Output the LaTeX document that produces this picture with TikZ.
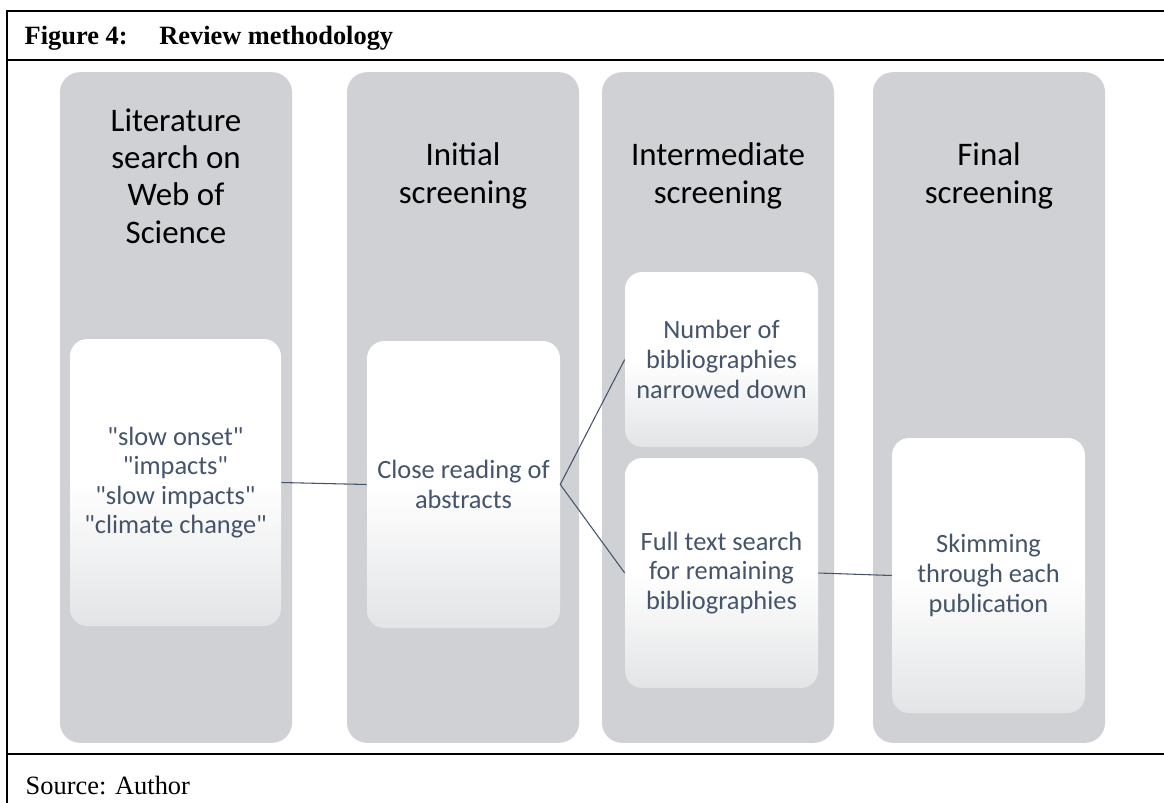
\documentclass[tikz,border=0pt]{standalone}
\usepackage{fontspec}
\setmainfont{Liberation Serif}
\newfontfamily\calibri{Carlito}
\usepackage{xcolor}
\usetikzlibrary{positioning}

\definecolor{colgray}{HTML}{D0D1D5}
\definecolor{boxlow}{HTML}{E3E4E6}
\definecolor{slate}{HTML}{44546A}

\begin{document}
\begin{tikzpicture}[
    x=0.75pt, y=-0.75pt,
    column/.style={
        rectangle, fill=colgray, rounded corners=15pt,
        minimum width=174pt, minimum height=503pt, inner sep=0pt
    },
    head/.style={
        align=center, font=\calibri\fontsize{24.7}{28}\selectfont, text=black
    },
    card/.style={
        rectangle, rounded corners=13pt, inner sep=0pt,
        top color=white, bottom color=boxlow, middle color=white,
        align=center, text=slate, font=\calibri\fontsize{19.8}{22.2}\selectfont,
        minimum width=144.75pt
    },
    link/.style={draw=slate, line width=0.8pt},
    rule/.style={line width=1.6pt},
]
\useasboundingbox (0,0) rectangle (1164,803);

% Frame
\draw[rule] (7,803) -- (7,11) -- (1164,11);
\draw[rule] (7,60) -- (1164,60);
\draw[rule] (7,754) -- (1164,754);
\node[anchor=base west, font=\fontsize{19.8}{23}\selectfont\bfseries] (title) at (20,44)
    {Figure 4:\hspace{1.2em}Review methodology};
\node[anchor=base west, font=\fontsize{19.8}{23}\selectfont] (source) at (21,794) {Source: Author};

% Columns
\node[column] (c1) at (176,407.5) {};
\node[column] (c2) at (463,407.5) {};
\node[column] (c3) at (718,407.5) {};
\node[column] (c4) at (989,407.5) {};

% Column headings
\node[head] (h1) at (176,176) {Literature\\search on\\Web of\\Science};
\node[head] (h2) at (463,176) {Initial\\screening};
\node[head] (h3) at (718,176) {Intermediate\\screening};
\node[head] (h4) at (989,176) {Final\\screening};

% Cards
\node[card, minimum width=158.25pt, minimum height=215.25pt] (kw) at (175.5,482.5)
    {"slow onset"\\"impacts"\\"slow impacts"\\"climate change"};
\node[card, minimum height=215.25pt] (abs) at (463.5,484.5) {Close reading of\\abstracts};
\node[card, minimum height=131.25pt] (narrow) at (721.5,359.5)
    {Number of\\bibliographies\\narrowed down};
\node[card, minimum height=172.5pt] (full) at (721.5,573)
    {Full text search\\for remaining\\bibliographies};
\node[card, minimum height=206.25pt] (skim) at (988.5,575.5)
    {Skimming\\through each\\publication};

% Connectors
\draw[link] (kw.east) -- (abs.west);
\draw[link] (narrow.west) -- (abs.east) -- (full.west);
\draw[link] (full.east) -- (skim.west);

\end{tikzpicture}
\end{document}
